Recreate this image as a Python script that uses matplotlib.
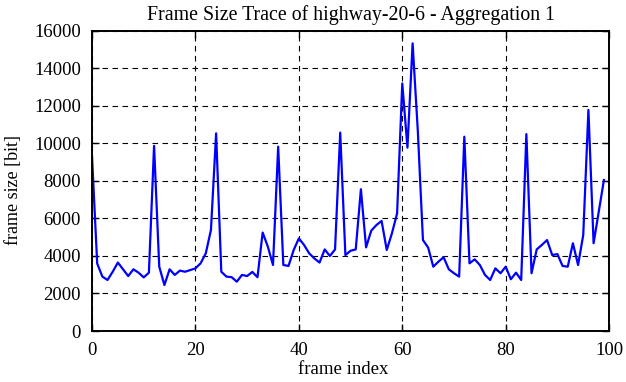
import matplotlib
matplotlib.use("Agg")
import matplotlib.pyplot as plt
import numpy as np

# frame sizes [bit], frames 0..99
frame_size = [
    9300, 3600, 2900, 2720, 3160, 3650, 3290, 2930, 3290, 3110,
    2860, 3110, 9870, 3430, 2450, 3290, 2990, 3220, 3160, 3250,
    3340, 3610, 4140, 5390, 10540, 3160, 2900, 2870, 2630, 2990,
    2930, 3150, 2870, 5250, 4500, 3520, 9830, 3520, 3470, 4320,
    4940, 4590, 4140, 3870, 3650, 4350, 4000, 4350, 10580, 4050,
    4280, 4350, 7560, 4460, 5350, 5650, 5870, 4320, 5210, 6270,
    13200, 9780, 15340, 10700, 4850, 4450, 3430, 3700, 3930, 3290,
    3080, 2900, 10360, 3610, 3820, 3520, 2990, 2720, 3340, 3080,
    3430, 2760, 3110, 2720, 10500, 3080, 4350, 4590, 4850, 4050,
    4100, 3470, 3430, 4680, 3520, 5120, 11790, 4680, 6360, 8050,
]
frame_index = np.arange(len(frame_size))

x_ticks = [0, 20, 40, 60, 80, 100]
y_ticks = [0, 2000, 4000, 6000, 8000, 10000, 12000, 14000, 16000]

plt.rcParams['font.family'] = ['Liberation Serif', 'DejaVu Serif']
plt.rcParams['font.size'] = 13.5

fig = plt.figure(figsize=(6.26, 3.82), dpi=100)
ax = fig.add_axes([0.147, 0.1335, 0.826, 0.7855])

ax.plot(frame_index, frame_size, color='#0000ff', lw=1.6)

ax.set_xlim(0, 100)
ax.set_ylim(0, 16000)
ax.set_xticks(x_ticks)
ax.set_yticks(y_ticks)
ax.grid(True, color='black', linestyle=(0, (5, 4)), lw=0.8)
ax.tick_params(direction='in', top=True, right=True, length=5, width=1, pad=8)
for s in ax.spines.values():
    s.set_linewidth(1.4)

ax.set_title("Frame Size Trace of highway-20-6 - Aggregation 1", fontsize=14.3, pad=8)
ax.set_xlabel("frame index")
ax.set_ylabel("frame size [bit]", fontsize=13)
ax.xaxis.set_label_coords(0.485, -0.1)
ax.yaxis.set_label_coords(-0.135, 0.47)

fig.savefig("out.png", dpi=100)
